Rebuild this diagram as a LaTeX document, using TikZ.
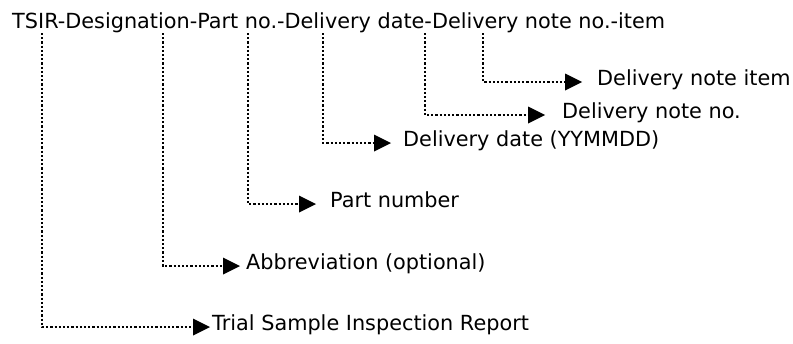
\documentclass[tikz,border=0pt]{standalone}
\usepackage{fontspec}
\setmainfont{DejaVu Sans}
\usetikzlibrary{arrows.meta}
\tikzset{
  field/.style={anchor=west, inner sep=0pt, text height=0.73em, text depth=0pt,
                font=\fontsize{20.8}{24}\selectfont},
  lead/.style={draw=black, line width=2.2pt, dash pattern=on 2.2pt off 2pt,
               -{Triangle[length=17pt,width=17pt,line width=0pt]}},
}
\begin{document}
\begin{tikzpicture}[x=1pt,y=1pt]
\useasboundingbox (0,0) rectangle (793,-343);

\node[field, anchor=base west] (title) at (12,-28)
  {TSIR-Designation-Part no.-Delivery date-Delivery note no.-item};

% where each part of the key branches off
\coordinate (tsir)  at (42,-33);
\coordinate (desig) at (163,-33);
\coordinate (part)  at (248,-33);
\coordinate (date)  at (323,-33);
\coordinate (note)  at (425,-33);
\coordinate (item)  at (483,-33);

\node[field] (trial)  at (212,-327) {Trial Sample Inspection Report};
\node[field] (abbr)   at (246,-266) {Abbreviation (optional)};
\node[field] (partno) at (330,-204) {Part number};
\node[field] (ddate)  at (403,-143) {Delivery date (YYMMDD)};
\node[field] (dnote)  at (562,-115) {Delivery note no.};
\node[field] (ditem)  at (597,-82)  {Delivery note item};

\foreach \from/\to/\gap in {tsir/trial/2, desig/abbr/6, part/partno/14,
                            date/ddate/12, note/dnote/17, item/ditem/15}
  \draw[lead, shorten >=\gap pt] (\from) |- (\to);
\end{tikzpicture}
\end{document}
